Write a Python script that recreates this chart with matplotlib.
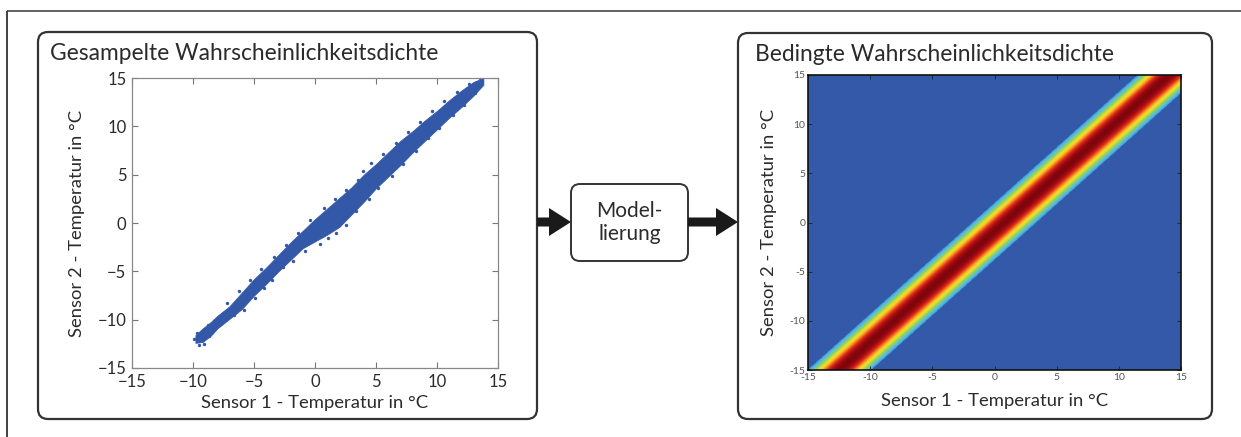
import numpy as np
import matplotlib
matplotlib.use("Agg")
import matplotlib.pyplot as plt
from matplotlib.patches import FancyBboxPatch, FancyArrow
from matplotlib.colors import LinearSegmentedColormap

# ---------------- data ----------------
title_left = "Gesampelte Wahrscheinlichkeitsdichte"
title_right = "Bedingte Wahrscheinlichkeitsdichte"
xlabel = "Sensor 1 - Temperatur in °C"
ylabel = "Sensor 2 - Temperatur in °C"
model_label = "Model-\nlierung"
ticks = [-15, -10, -5, 0, 5, 10, 15]

# envelope of the dense sample band
band_x = [-9.8, -9.2, -8.5, -8.0, -7.0, -6.0, -5.0, -4.0, -3.0, -2.0, -1.0, 0.0,
          1.0, 2.0, 3.0, 4.0, 5.0, 6.0, 7.0, 8.0, 9.0, 10.0, 11.0, 12.0, 13.0, 13.8]
band_lo = [-12.4, -12.3, -11.6, -10.9, -9.9, -8.9, -7.5, -6.3, -5.0, -3.8, -2.6, -1.9,
           -1.2, -0.4, 0.9, 2.2, 3.6, 4.8, 6.0, 7.3, 8.5, 9.7, 10.9, 12.0, 13.2, 14.3]
band_hi = [-11.6, -10.9, -10.2, -9.6, -8.6, -7.2, -5.8, -4.6, -3.3, -2.0, -0.8, 0.4,
           1.5, 2.6, 3.7, 5.0, 6.1, 7.3, 8.5, 9.5, 10.6, 11.6, 12.7, 13.7, 14.6, 15.0]

# individual scattered samples along the fuzzy edges of the band
pts_x = [-9.9, -9.5, -9.1, -9.7, -9.3, -8.8, -8.3, -8.7, -7.9, -7.6,
         -6.6, -5.8, -4.9, -4.2, -3.5, -2.6, -1.8, -0.8, 0.4, 1.1, 1.7, 2.5,
         3.4, 4.4, 5.2, 6.3, 7.2, 8.3, 9.3, 10.2, 11.3, 12.2, 13.1,
         -7.2, -6.2, -5.3, -4.4, -3.4, -2.4, -1.4, -0.4, 0.7, 1.6, 2.5, 3.5,
         4.6, 3.9, 5.6, 6.6, 7.6, 8.6, 9.6, 10.6, 11.6, 12.6, 13.5]
pts_y = [-12.0, -12.6, -12.5, -11.4, -11.2, -10.5, -10.1, -11.7, -10.0, -9.4,
         -9.5, -9.0, -7.8, -6.7, -5.9, -4.5, -3.9, -2.9, -2.2, -1.6, -1.0, -0.2,
         1.2, 2.5, 3.6, 4.9, 6.1, 7.5, 8.8, 9.8, 11.2, 12.2, 13.4,
         -8.3, -7.0, -5.9, -4.8, -3.5, -2.3, -1.0, 0.3, 1.6, 2.5, 3.4, 4.5,
         6.2, 5.4, 7.1, 8.3, 9.4, 10.5, 11.6, 12.6, 13.6, 14.4, 15.0]

# model of the conditional density
SLOPE = 1.13
INTERCEPT = -0.9
SIGMA = 1.35

# ---------------- style ----------------
plt.rcParams['font.family'] = ['Lato', 'DejaVu Sans']
BLUE = "#3458A8"
BOX = "#333333"
TXT = "#2b2b2b"

W, H = 1241, 437
fig = plt.figure(figsize=(W / 100, H / 100), dpi=100)
fig.patch.set_facecolor("white")

# overlay in pixel coordinates for frames, boxes, arrows
ov = fig.add_axes([0, 0, 1, 1])
ov.set_xlim(0, W)
ov.set_ylim(H, 0)
ov.axis("off")

ov.plot([7, W], [11, 11], color="#555555", lw=1.3, solid_capstyle="butt")
ov.plot([7, 7], [11, H], color="#333333", lw=1.3, solid_capstyle="butt")

def rbox(x0, y0, x1, y1, r, lw):
    p = FancyBboxPatch((x0 + r, y0 + r), (x1 - x0) - 2 * r, (y1 - y0) - 2 * r,
                       boxstyle=f"round,pad={r}", fc="white", ec=BOX, lw=lw)
    ov.add_patch(p)

rbox(38, 32, 537, 419, 10, 1.6)
rbox(738, 33, 1212, 419, 10, 1.6)
rbox(571, 184, 688, 261, 9, 1.4)

ov.text(629.5, 222.5, model_label, ha="center", va="center", fontsize=15,
        color=TXT, linespacing=1.15)

for xs, xe in [(537, 571), (688, 738)]:
    ov.add_patch(FancyArrow(xs, 222, xe - xs, 0, width=9, head_width=28,
                            head_length=22, length_includes_head=True,
                            fc="#1a1a1a", ec="#1a1a1a", lw=0))

ov.text(50, 60, title_left, fontsize=16.4, color=TXT, ha="left", va="baseline")
ov.text(755, 61, title_right, fontsize=16.4, color=TXT, ha="left", va="baseline")

# ---------------- left: scatter ----------------
axL = fig.add_axes([132 / W, (H - 368) / H, 366 / W, 290 / H])
axL.fill_between(band_x, band_lo, band_hi, color=BLUE, lw=0.6, ec=BLUE)
axL.scatter(pts_x, pts_y, s=6, color=BLUE, lw=0)
axL.set_xlim(-15, 15)
axL.set_ylim(-15, 15)
axL.set_xticks(ticks)
axL.set_yticks(ticks)
axL.tick_params(direction="in", top=True, right=True, length=4, width=0.8,
                color="#777777", labelsize=12, labelcolor=TXT, pad=4)
for s in axL.spines.values():
    s.set_color("#888888")
    s.set_linewidth(0.9)
axL.set_xlabel(xlabel, fontsize=13.3, color=TXT, labelpad=4)
axL.set_ylabel(ylabel, fontsize=13.3, color=TXT, labelpad=9)

# ---------------- right: conditional density ----------------
cmap = LinearSegmentedColormap.from_list("muted_jet", [
    (0.0, (0.20, 0.35, 0.66)),
    (0.099, (0.20, 0.35, 0.66)),
    (0.10, (0.27, 0.62, 0.90)),
    (0.16, (0.33, 0.76, 0.86)),
    (0.25, (0.58, 0.81, 0.36)),
    (0.36, (0.88, 0.88, 0.20)),
    (0.46, (0.98, 0.82, 0.15)),
    (0.58, (0.95, 0.52, 0.12)),
    (0.72, (0.88, 0.16, 0.10)),
    (0.88, (0.64, 0.05, 0.07)),
    (1.0, (0.50, 0.02, 0.05)),
])

gx = np.linspace(-15, 15, 500)
gy = np.linspace(-15, 15, 500)
GX, GY = np.meshgrid(gx, gy)
dens = np.exp(-(GY - (SLOPE * GX + INTERCEPT)) ** 2 / (2 * SIGMA ** 2))

axR = fig.add_axes([808 / W, (H - 370) / H, 373 / W, 295 / H])
axR.imshow(dens, origin="lower", extent=[-15, 15, -15, 15], aspect="auto",
           cmap=cmap, vmin=0, vmax=1, interpolation="bilinear")
axR.set_xlim(-15, 15)
axR.set_ylim(-15, 15)
axR.set_xticks(ticks)
axR.set_yticks(ticks)
axR.set_xticklabels([str(t) for t in ticks])
axR.set_yticklabels([str(t) for t in ticks])
axR.tick_params(direction="in", top=True, right=True, length=3, width=0.6,
                color="#222222", labelsize=7.5, labelcolor="#555555", pad=2)
for s in axR.spines.values():
    s.set_color("#111111")
    s.set_linewidth(1.2)
axR.set_xlabel(xlabel, fontsize=13.3, color=TXT, labelpad=8)
axR.set_ylabel(ylabel, fontsize=13.3, color=TXT, labelpad=9)

fig.savefig("out.png", dpi=100, facecolor="white")
